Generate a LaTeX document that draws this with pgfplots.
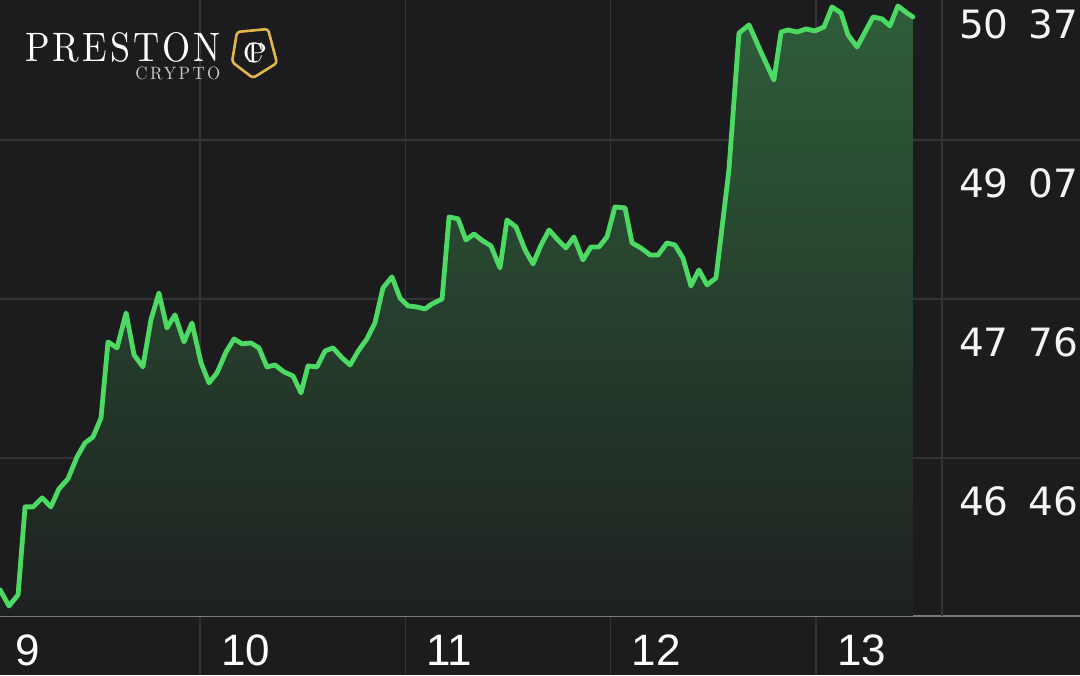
\documentclass[border=0pt]{standalone}
\usepackage{fontspec}
\usepackage{pgfplots}
\usepackage{pgfplotstable}
\pgfplotsset{compat=1.18}
\newfontfamily\xfont{Liberation Sans}
\newfontfamily\yfont{DejaVu Sans}
\newfontfamily\logofont{lmroman10-regular.otf}[LetterSpace=8]
\newfontfamily\logosmall{lmroman10-regular.otf}[LetterSpace=14]

\definecolor{bg}{HTML}{1C1C1E}
\definecolor{gridc}{HTML}{333336}
\definecolor{basec}{HTML}{7A7A7A}
\definecolor{linec}{HTML}{4CD964}
\definecolor{filltop}{HTML}{2E5E3A}
\definecolor{fillbot}{HTML}{1E2120}
\definecolor{gold}{HTML}{E3B64C}

% day of month (fractional), price
\pgfplotstableread{
d p
9.026 45377
9.070 45245
9.114 45336
9.148 46058
9.187 46058
9.231 46132
9.274 46058
9.313 46206
9.357 46288
9.401 46468
9.440 46583
9.479 46632
9.518 46788
9.552 47412
9.596 47363
9.640 47650
9.679 47305
9.722 47207
9.761 47593
9.800 47814
9.839 47527
9.878 47634
9.922 47412
9.961 47568
10.005 47240
10.044 47076
10.083 47158
10.127 47330
10.166 47437
10.205 47396
10.248 47404
10.287 47363
10.326 47207
10.365 47223
10.409 47166
10.453 47133
10.492 46994
10.526 47215
10.570 47207
10.609 47338
10.648 47363
10.692 47281
10.731 47223
10.774 47346
10.813 47437
10.852 47568
10.891 47855
10.935 47946
10.974 47773
11.013 47708
11.057 47699
11.096 47683
11.130 47724
11.179 47765
11.213 48438
11.257 48422
11.295 48249
11.334 48298
11.378 48241
11.417 48200
11.461 48019
11.495 48413
11.539 48356
11.583 48167
11.622 48052
11.661 48208
11.700 48331
11.739 48257
11.782 48183
11.821 48274
11.865 48085
11.904 48192
11.943 48192
11.982 48274
12.021 48520
12.070 48512
12.104 48225
12.148 48183
12.192 48126
12.231 48126
12.274 48225
12.313 48208
12.352 48101
12.391 47872
12.430 48003
12.469 47880
12.513 47937
12.576 48824
12.625 49948
12.674 50014
12.732 49792
12.795 49562
12.830 49956
12.864 49973
12.908 49956
12.951 49981
12.995 49965
13.039 49997
13.078 50162
13.122 50112
13.156 49932
13.200 49833
13.239 49956
13.278 50080
13.322 50063
13.360 50006
13.399 50170
13.443 50112
13.472 50080
}\price

\begin{document}
\begin{tikzpicture}
\useasboundingbox (0,0) rectangle (540pt,337.5pt);
\begin{axis}[
  at={(-10pt,0pt)}, anchor=south west,
  scale only axis, width=550pt, height=352.5pt,
  xmin=8.9286, xmax=14.2858,
  ymin=44678, ymax=50465,
  scaled x ticks=false, scaled y ticks=false,
  axis background/.style={fill=bg},
  axis line style={draw=none},
  major tick length=0pt,
  grid=major,
  grid style={gridc, line width=0.7pt},
  xtick={9,10,11,12,13},
  xticklabels={9,10,11,12,13},
  xticklabel style={anchor=base west, xshift=7pt, yshift=5pt,
    font=\xfont\fontsize{22}{26}\selectfont, text=white},
  ytick={46460,47765,49070,50375},
  yticklabels={46\hspace{0.52em}46,47\hspace{0.52em}76,49\hspace{0.52em}07,50\hspace{0.52em}37},
  yticklabel pos=right,
  yticklabel style={anchor=base west, xshift=-64pt, yshift=-29pt,
    font=\yfont\fontsize{19.5}{23}\selectfont, text=white!96!black},
  extra y ticks={45163},
  extra y tick labels={},
  extra y tick style={grid style={basec, line width=1.1pt}},
  clip=false,
]
\addplot[draw=none, top color=filltop, bottom color=fillbot]
  table[x=d, y=p] {\price} -- (axis cs:13.472,45163) -- (axis cs:9.026,45163) -- cycle;
\draw[gridc, line width=0.7pt] (axis cs:13.614,45163) -- (axis cs:13.614,50465);
\addplot[linec, line width=2.4pt, line join=round, line cap=round]
  table[x=d, y=p] {\price};
\end{axis}
% logo
\node[anchor=base west, inner sep=0pt, text=white, text depth=0pt] at (12.5pt,306.5pt)
  {\resizebox{97.5pt}{14.5pt}{\logofont PRESTON}};
\node[anchor=base west, inner sep=0pt, text=white!80!black, text depth=0pt] at (67.5pt,297.8pt)
  {\resizebox{42.5pt}{6.3pt}{\logosmall CRYPTO}};
\draw[gold, line width=1.3pt, rounded corners=1.5pt]
  (118.5pt,321.5pt) -- (134pt,323pt) -- (138.5pt,306pt) -- (126.5pt,298.5pt) -- (116pt,306.5pt) -- cycle;
\node[text=white, inner sep=0pt] at (127.5pt,311pt)
  {\logofont\fontsize{14}{16}\selectfont C\kern-0.55em P};
\end{tikzpicture}
\end{document}
